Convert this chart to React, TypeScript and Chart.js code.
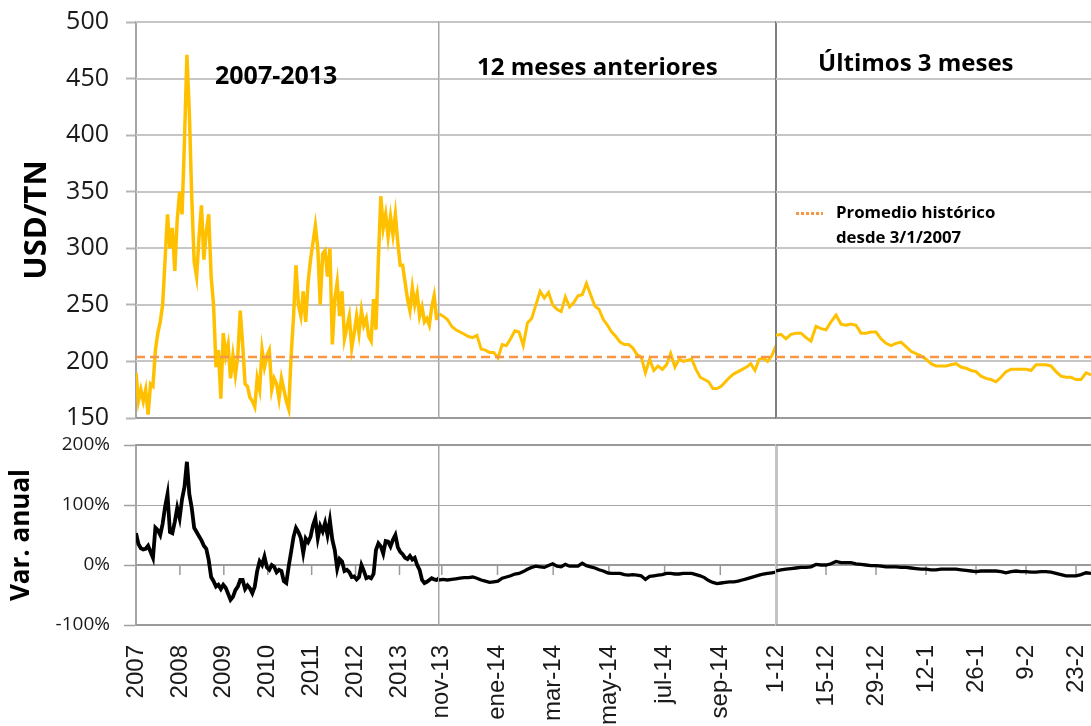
import React, { useEffect, useRef } from 'react';
import { Chart, registerables } from 'chart.js';

Chart.register(...registerables);

// ---------------- DATA ----------------
const HIST_AVG = 204; // Promedio histórico desde 3/1/2007 (USD/TN)

// Segment 1: 2007-2013
const SEG1_TICKS = [2007, 2008, 2009, 2010, 2011, 2012, 2013];
const SEG1_LABELS = ['2007', '2008', '2009', '2010', '2011', '2012', '2013'];
const SEG1_RANGE = [2007, 2013.9];
const SEG1_PRICE = [
  190, 165, 175, 165, 175, 153, 180, 178, 210, 225,
  235, 250, 290, 330, 300, 318, 280, 325, 350, 330,
  395, 471, 420, 345, 288, 275, 310, 338, 290, 315,
  330, 275, 250, 195, 210, 167, 225, 205, 215, 185,
  205, 188, 205, 245, 215, 180, 178, 168, 165, 160,
  185, 175, 210, 195, 205, 210, 175, 185, 180, 167,
  185, 175, 165, 158, 205, 240, 285, 250, 240, 262,
  235, 270, 290, 305, 320, 300, 250, 295, 298, 275,
  300, 215, 255, 270, 240, 262, 220, 230, 240, 212,
  225, 240, 225, 245, 232, 238, 222, 218, 255, 228,
  290, 346, 318, 330, 310, 328, 312, 330, 305, 285,
  285, 270, 255, 245, 265, 250, 260, 240, 248, 235,
  238, 232, 248, 258, 238, 238,
];
const SEG1_VAR = [
  53, 35, 28, 26, 27, 32, 22, 12, 62, 58,
  50, 69, 97, 118, 55, 53, 72, 95, 78, 110,
  130, 172, 118, 95, 62, 55, 48, 41, 32, 27,
  8, -20, -27, -36, -33, -40, -33, -38, -48, -58,
  -53, -42, -36, -25, -25, -40, -34, -39, -47, -36,
  -10, 6, 0, 14, -4, -8, 0, -3, -12, -8,
  -10, -27, -30, -2, 22, 47, 62, 55, 45, 20,
  44, 38, 47, 66, 78, 45, 65, 56, 70, 50,
  74, 42, 25, -6, 10, 6, -10, -8, -12, -20,
  -19, -24, -20, 0, -10, -22, -20, -22, -15, 25,
  36, 31, 19, 40, 39, 31, 42, 50, 30, 22,
  18, 12, 10, 15, 9, 12, 0, -8, -25, -30,
  -28, -25, -22, -24, -25, -22,
];

// Segment 2: 12 meses anteriores (months from nov-13)
const SEG2_TICKS = [0, 2, 4, 6, 8, 10];
const SEG2_LABELS = ['nov-13', 'ene-14', 'mar-14', 'may-14', 'jul-14', 'sep-14'];
const SEG2_RANGE = [-0.1, 12];
const SEG2_PRICE = [
  242, 240, 237, 231, 228, 226, 224, 222, 221, 223,
  211, 210, 208, 208, 203, 215, 214, 220, 227, 226,
  214, 234, 238, 250, 262, 256, 261, 250, 246, 244,
  257, 248, 252, 258, 259, 269, 259, 249, 246, 237,
  232, 226, 222, 217, 215, 215, 212, 206, 204, 190,
  202, 192, 196, 193, 197, 207, 195, 202, 200, 201,
  202, 193, 186, 184, 182, 176, 176, 178, 182, 186,
  189, 191, 193, 195, 198, 192, 202, 203, 200, 205,
  214,
];
const SEG2_VAR = [
  -25, -24, -25, -24, -23, -22, -21, -21, -20, -22,
  -25, -27, -29, -28, -27, -22, -20, -18, -15, -14,
  -11, -7, -4, -2, -3, -4, -1, 2, -2, -3,
  1, -2, -2, -2, 3, -1, -3, -5, -8, -10,
  -13, -14, -14, -14, -16, -17, -16, -17, -18, -24,
  -19, -18, -17, -16, -14, -14, -15, -15, -14, -14,
  -14, -16, -18, -21, -26, -29, -31, -30, -29, -28,
  -28, -27, -25, -23, -21, -19, -17, -15, -14, -13,
  -12,
];

// Segment 3: Últimos 3 meses (business days from 1-12)
const SEG3_TICKS = [0, 10, 20, 30, 40, 50, 60];
const SEG3_LABELS = ['1-12', '15-12', '29-12', '12-1', '26-1', '9-2', '23-2'];
const SEG3_RANGE = [0, 63];
const SEG3_PRICE = [
  223, 224, 220, 224, 225, 225, 221, 218, 231, 229,
  228, 235, 241, 233, 232, 233, 232, 225, 225, 226,
  226, 220, 216, 214, 216, 217, 213, 209, 207, 205,
  202, 198, 196, 196, 196, 197, 198, 195, 194, 192,
  191, 187, 185, 184, 182, 186, 191, 193, 193, 193,
  193, 192, 197, 197, 197, 196, 191, 187, 186, 186,
  184, 184, 190, 188,
];
const SEG3_VAR = [
  -10, -8, -7, -6, -5, -4, -4, -3, 1, 0,
  0, 2, 6, 4, 4, 4, 2, 1, 0, -1,
  -1, -2, -3, -3, -3, -4, -4, -5, -6, -7,
  -7, -8, -8, -7, -7, -7, -7, -8, -9, -10,
  -11, -10, -10, -10, -10, -11, -13, -11, -10, -11,
  -11, -12, -12, -11, -11, -12, -14, -16, -18, -18,
  -18, -16, -13, -14,
];

// ---------------- LAYOUT ----------------
const H = 726;
const PLOT_TOP = 22;
const TOP_H = 396;
const GAP_H = 27;
const BOT_H = 180;
const X_AXIS_H = 101;

type Seg = {
  left: number;
  width: number;
  axisW: number;
  first: boolean;
  range: number[];
  ticks: number[];
  labels: string[];
  price: number[];
  vr: number[];
  lineW: number;
  divTop: [string, number];
  divBot: [string, number];
};

const SEGMENTS: Seg[] = [
  { left: 0, width: 439, axisW: 136, first: true, range: SEG1_RANGE, ticks: SEG1_TICKS, labels: SEG1_LABELS, price: SEG1_PRICE, vr: SEG1_VAR, lineW: 3.5, divTop: ['#a6a6a6', 2], divBot: ['#a6a6a6', 2] },
  { left: 419, width: 357, axisW: 20, first: false, range: SEG2_RANGE, ticks: SEG2_TICKS, labels: SEG2_LABELS, price: SEG2_PRICE, vr: SEG2_VAR, lineW: 3, divTop: ['#a6a6a6', 1.5], divBot: ['#a6a6a6', 1.5] },
  { left: 756, width: 335, axisW: 20, first: false, range: SEG3_RANGE, ticks: SEG3_TICKS, labels: SEG3_LABELS, price: SEG3_PRICE, vr: SEG3_VAR, lineW: 3, divTop: ['#7f7f7f', 2], divBot: ['#c4c4c4', 3] },
];

const toPoints = (vals: number[], range: number[]) => {
  const n = vals.length;
  return vals.map((v, i) => ({ x: range[0] + (i * (range[1] - range[0])) / (n - 1), y: v }));
};

// Horizontal grid lines for both panels, drawn from the y scales' own ticks
const panelGrid = {
  id: 'panelGrid',
  beforeDatasetsDraw(chart: any) {
    const { left, right } = chart.chartArea;
    const ctx = chart.ctx;
    const line = (yRaw: number, color: string, w: number) => {
      // crisp alignment: even widths on integer rows, odd widths on half rows
      const y = w % 2 === 0 ? Math.round(yRaw) : Math.round(yRaw) + 0.5;
      ctx.save();
      ctx.strokeStyle = color;
      ctx.lineWidth = w;
      ctx.beginPath();
      ctx.moveTo(left, y);
      ctx.lineTo(right, y);
      ctx.stroke();
      ctx.restore();
    };
    const yt = chart.scales.yTop;
    yt.ticks.forEach((t: any) => {
      const y = yt.getPixelForValue(t.value);
      if (t.value === yt.min) line(y, '#9a9a9a', 2);
      else line(y, '#c6c6c6', 2);
    });
    const yb = chart.scales.yBot;
    yb.ticks.forEach((t: any) => {
      if (t.value % 100 !== 0) return;
      const y = yb.getPixelForValue(t.value);
      if (t.value === 100) line(y, '#a6a6a6', 1);
      else line(y, '#9a9a9a', 2);
    });
    // small tick marks below the 0% line at each x tick
    const xs = chart.scales.x;
    const y0 = Math.round(yb.getPixelForValue(0));
    ctx.save();
    ctx.strokeStyle = '#9a9a9a';
    ctx.lineWidth = 1.5;
    xs.ticks.forEach((t: any) => {
      const px = xs.getPixelForValue(t.value);
      if (px <= left + 2) return;
      ctx.beginPath();
      ctx.moveTo(px, y0);
      ctx.lineTo(px, y0 + 10);
      ctx.stroke();
    });
    ctx.restore();
  },
};

function buildConfig(seg: Seg): any {
  const fitY = (s: any) => {
    s.width = seg.axisW;
    s.paddingTop = 0;
    s.paddingBottom = 0;
  };
  return {
    type: 'line',
    data: {
      datasets: [
        {
          label: 'Promedio histórico desde 3/1/2007',
          data: [
            { x: seg.range[0], y: HIST_AVG },
            { x: seg.range[1], y: HIST_AVG },
          ],
          yAxisID: 'yTop',
          borderColor: '#f79646',
          borderWidth: 2.5,
          borderDash: [9, 5],
          pointRadius: 0,
        },
        {
          label: 'USD/TN',
          data: toPoints(seg.price, seg.range),
          yAxisID: 'yTop',
          borderColor: '#ffc000',
          borderWidth: seg.lineW,
          pointRadius: 0,
        },
        {
          label: 'Var. anual',
          data: toPoints(seg.vr, seg.range),
          yAxisID: 'yBot',
          borderColor: '#000000',
          borderWidth: seg.lineW + 0.3,
          pointRadius: 0,
        },
      ],
    },
    options: {
      responsive: false,
      animation: false,
      devicePixelRatio: 1,
      layout: { padding: { top: PLOT_TOP, left: 0, right: 0, bottom: 0 } },
      plugins: { legend: { display: false }, tooltip: { enabled: false } },
      elements: { line: { tension: 0 }, point: { radius: 0 } },
      scales: {
        x: {
          type: 'linear',
          min: seg.range[0],
          max: seg.range[1],
          afterBuildTicks: (s: any) => {
            s.ticks = seg.ticks.map((v) => ({ value: v }));
          },
          afterFit: (s: any) => {
            s.height = X_AXIS_H;
            s.paddingLeft = 0;
            s.paddingRight = 0;
          },
          ticks: {
            autoSkip: false,
            maxRotation: 90,
            minRotation: 90,
            padding: 20,
            color: '#1a1a1a',
            font: { family: '"Liberation Sans", Arial, sans-serif', size: 24 },
            callback: (_v: any, i: number) => seg.labels[i],
          },
          grid: { display: false, drawTicks: false },
          border: { display: false },
        },
        yTop: {
          type: 'linear',
          position: 'left',
          stack: 'panels',
          stackWeight: TOP_H,
          weight: 3,
          min: 150,
          max: 500,
          afterFit: fitY,
          ticks: {
            display: seg.first,
            stepSize: 50,
            padding: 17,
            color: '#1a1a1a',
            font: { family: '"Open Sans", sans-serif', size: 25 },
          },
          grid: {
            display: seg.first,
            drawOnChartArea: false,
            drawTicks: true,
            tickLength: 10,
            tickColor: '#b5b5b5',
            tickWidth: 2,
          },
          border: { display: true, color: seg.divTop[0], width: seg.divTop[1] },
          title: {
            display: seg.first,
            text: 'USD/TN',
            color: '#000',
            font: { family: '"Open Sans", sans-serif', size: 31, weight: 'bold' },
            padding: { top: 19, bottom: 0 },
          },
        },
        ySpacer: {
          type: 'linear',
          position: 'left',
          stack: 'panels',
          stackWeight: GAP_H,
          weight: 2,
          min: 0,
          max: 1,
          afterFit: fitY,
          ticks: { display: false },
          grid: { display: false, drawTicks: false },
          border: { display: false },
        },
        yBot: {
          type: 'linear',
          position: 'left',
          stack: 'panels',
          stackWeight: BOT_H,
          weight: 1,
          min: -100,
          max: 200,
          afterFit: fitY,
          ticks: {
            display: seg.first,
            stepSize: 50,
            padding: 14,
            color: '#1a1a1a',
            font: { family: '"Open Sans", sans-serif', size: 19 },
            callback: (v: any) => v + '%',
          },
          grid: {
            display: seg.first,
            drawOnChartArea: false,
            drawTicks: true,
            tickLength: 12,
            tickColor: '#a0a0a0',
            tickWidth: 1.5,
          },
          border: { display: true, color: seg.divBot[0], width: seg.divBot[1] },
          title: {
            display: seg.first,
            text: 'Var. anual',
            color: '#000',
            font: { family: '"Open Sans", sans-serif', size: 26, weight: 'bold' },
            padding: { top: 6, bottom: 0 },
          },
        },
      },
    },
    plugins: [panelGrid],
  };
}

function SegChart({ seg }: { seg: Seg }) {
  const ref = useRef<HTMLCanvasElement>(null);
  useEffect(() => {
    if (!ref.current) return;
    const chart = new Chart(ref.current, buildConfig(seg));
    return () => chart.destroy();
  }, [seg]);
  return (
    <canvas
      ref={ref}
      width={seg.width}
      height={H}
      style={{ position: 'absolute', left: seg.left, top: 0, width: seg.width, height: H }}
    />
  );
}

const titleStyle = (left: number, top: number, size: number): React.CSSProperties => ({
  position: 'absolute',
  left,
  top,
  font: `bold ${size}px "Open Sans", sans-serif`,
  lineHeight: 1,
  color: '#000',
  whiteSpace: 'nowrap',
});

export default function App() {
  return (
    <div style={{ position: 'fixed', left: 0, top: 0, width: 1091, height: H, background: '#fff', overflow: 'hidden' }}>
      {SEGMENTS.map((s, i) => (
        <SegChart key={i} seg={s} />
      ))}
      <div style={titleStyle(215, 62, 25)}>2007-2013</div>
      <div style={titleStyle(477, 54, 24)}>12 meses anteriores</div>
      <div style={titleStyle(818, 50, 24)}>Últimos 3 meses</div>
      <div
        style={{
          position: 'absolute',
          left: 796,
          top: 212,
          width: 27,
          height: 3,
          background: 'repeating-linear-gradient(90deg, #f79646 0 3px, transparent 3px 5px)',
        }}
      />
      <div style={{ position: 'absolute', left: 836, top: 199, font: 'bold 16.8px "Open Sans", sans-serif', lineHeight: '25px', color: '#000', whiteSpace: 'nowrap' }}>
        Promedio histórico
        <br />
        desde 3/1/2007
      </div>
    </div>
  );
}
